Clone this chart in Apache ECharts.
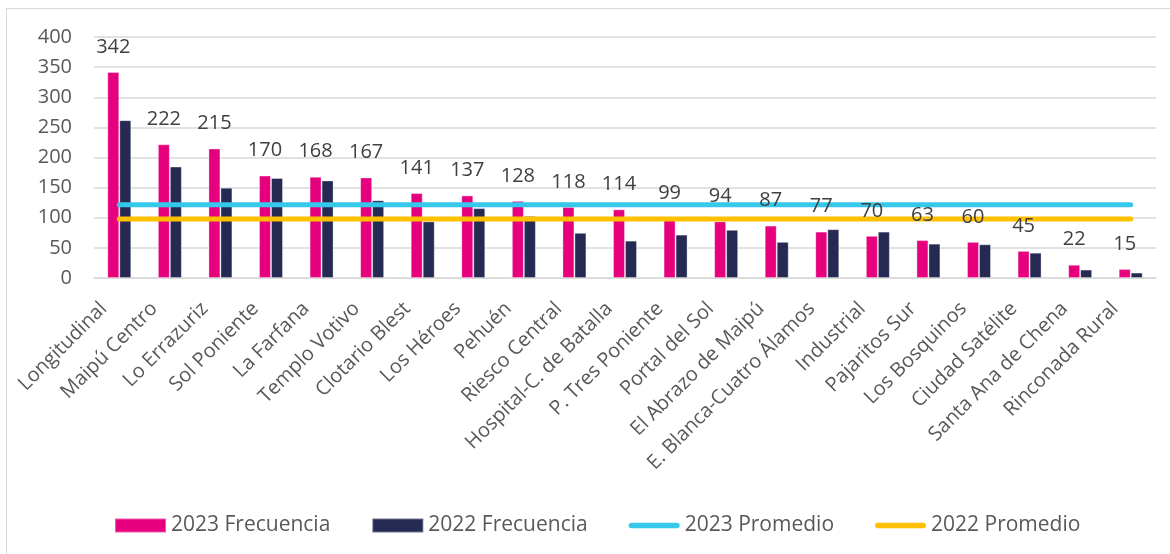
<!DOCTYPE html>
<html>
<head>
<meta charset="utf-8">
<script src="https://cdn.jsdelivr.net/npm/echarts@6/dist/echarts.min.js"></script>
<style>
    html, body { margin: 0; padding: 0; background: #fff; overflow: hidden; }
    #frame { position: absolute; left: 6px; top: 8px; width: 1300px; height: 700px; border: 1.5px solid #d9d9d9; }
    #chart { position: absolute; left: 0; top: 0; width: 1170px; height: 554px; }
</style>
</head>
<body>
<div id="frame"></div>
<div id="chart"></div>
<script>
const categories = [
    "Longitudinal", "Maipú Centro", "Lo Errazuriz", "Sol Poniente", "La Farfana",
    "Templo Votivo", "Clotario Blest", "Los Héroes", "Pehuén", "Riesco Central",
    "Hospital-C. de Batalla", "P. Tres Poniente", "Portal del Sol", "El Abrazo de Maipú",
    "E. Blanca-Cuatro Álamos", "Industrial", "Pajaritos Sur", "Los Bosquinos",
    "Ciudad Satélite", "Santa Ana de Chena", "Rinconada Rural"
];
const frecuencia2023 = [342, 222, 215, 170, 168, 167, 141, 137, 128, 118, 114, 99, 94, 87, 77, 70, 63, 60, 45, 22, 15];
const frecuencia2022 = [262, 185, 150, 166, 162, 129, 94, 116, 103, 75, 62, 72, 80, 60, 81, 77, 57, 56, 42, 14, 9];
const promedio2023 = [121.6, 121.6, 121.6, 121.6, 121.6, 121.6, 121.6, 121.6, 121.6, 121.6, 121.6,
    121.6, 121.6, 121.6, 121.6, 121.6, 121.6, 121.6, 121.6, 121.6, 121.6];
const promedio2022 = [97.8, 97.8, 97.8, 97.8, 97.8, 97.8, 97.8, 97.8, 97.8, 97.8, 97.8,
    97.8, 97.8, 97.8, 97.8, 97.8, 97.8, 97.8, 97.8, 97.8, 97.8];
const yTicks = { min: 0, max: 400, interval: 50 };

const FONT = "Open Sans";
// thick rounded line used as legend icon for the average series
const LINE_ICON = "path://M2.75,0 H48.25 A2.75,2.75 0 0 1 48.25,5.5 H2.75 A2.75,2.75 0 0 1 2.75,0 Z";

const myChart = echarts.init(document.getElementById("chart"), null, { renderer: "canvas" });

const option = {
    backgroundColor: "transparent",
    animation: false,
    textStyle: { fontFamily: FONT },
    grid: {
        left: 94,
        right: 14,
        top: 37,
        height: 241
    },
    legend: {
        left: 109,
        top: 510,
        itemWidth: 51,
        itemHeight: 14,
        itemGap: 41,
        textStyle: { fontFamily: FONT, fontSize: 21, color: "#595959" },
        data: [
            { name: "2023 Frecuencia", icon: "rect" },
            { name: "2022 Frecuencia", icon: "rect" },
            { name: "2023 Promedio", icon: LINE_ICON },
            { name: "2022 Promedio", icon: LINE_ICON }
        ]
    },
    xAxis: {
        type: "category",
        data: categories,
        axisTick: { show: false },
        axisLine: { lineStyle: { color: "#d9d9d9", width: 1.5 } },
        axisLabel: {
            rotate: 45,
            interval: 0,
            margin: 12,
            padding: [0, 22, 0, 0],
            fontFamily: FONT,
            fontSize: 20,
            color: "#595959"
        }
    },
    yAxis: {
        type: "value",
        min: yTicks.min,
        max: yTicks.max,
        interval: yTicks.interval,
        axisLine: { show: false },
        axisTick: { show: false },
        splitLine: { lineStyle: { color: "#d9d9d9", width: 1.5 } },
        axisLabel: {
            margin: 22,
            fontFamily: FONT,
            fontSize: 20,
            color: "#595959"
        }
    },
    series: [
        {
            name: "2023 Frecuencia",
            type: "bar",
            data: frecuencia2023,
            barWidth: 12,
            barGap: "0%",
            itemStyle: { color: "#E6007E", borderColor: "rgba(255,255,255,0.35)", borderWidth: 1 }
        },
        {
            name: "2022 Frecuencia",
            type: "bar",
            data: frecuencia2022,
            barWidth: 12,
            itemStyle: { color: "#242A52", borderColor: "rgba(255,255,255,0.35)", borderWidth: 1 }
        },
        {
            name: "2023 Promedio",
            type: "line",
            data: promedio2023,
            symbol: "none",
            itemStyle: { color: "#35C8EA" },
            lineStyle: { color: "#35C8EA", width: 5, cap: "round" }
        },
        {
            name: "2022 Promedio",
            type: "line",
            data: promedio2022,
            symbol: "none",
            itemStyle: { color: "#FFC000" },
            lineStyle: { color: "#FFC000", width: 5, cap: "round" }
        },
        {
            // value labels of 2023 bars, kept above the average lines
            name: "etiquetas",
            type: "scatter",
            data: frecuencia2023,
            symbolSize: 0,
            z: 10,
            silent: true,
            itemStyle: { opacity: 1 },
            label: {
                show: true,
                position: "top",
                distance: 15,
                offset: [-6, 0],
                opacity: 1,
                fontFamily: FONT,
                fontSize: 20,
                color: "#404040"
            }
        }
    ]
};

myChart.setOption(option);
</script>
</body>
</html>
